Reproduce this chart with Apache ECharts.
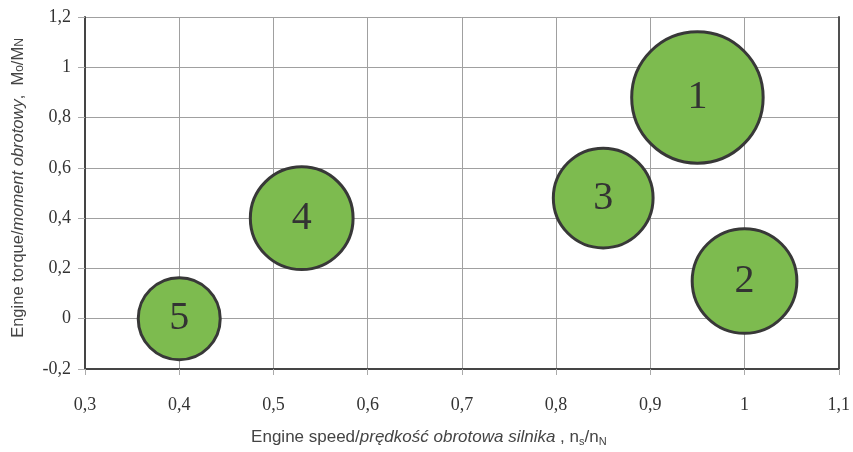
<!DOCTYPE html>
<html>
<head>
<meta charset="utf-8">
<script src="https://cdn.jsdelivr.net/npm/echarts@6/dist/echarts.min.js"></script>
<style>
  html, body { margin: 0; padding: 0; background: #fff; }
  #chart { width: 853px; height: 452px; }
</style>
</head>
<body>
<div id="chart"></div>
<script>
// Operating points: engine speed (ns/nN), engine torque (Mo/MN), relative weight
const pointNames = ['1', '2', '3', '4', '5'];
const speedValues = [0.95, 1.0, 0.85, 0.53, 0.40];
const torqueValues = [0.88, 0.15, 0.48, 0.40, 0.00];
const weightValues = [2.57, 1.63, 1.48, 1.57, 1.00];

// Axis tick labels (decimal comma)
const xTickLabels = ['0,3', '0,4', '0,5', '0,6', '0,7', '0,8', '0,9', '1', '1,1'];
const yTickLabels = ['-0,2', '0', '0,2', '0,4', '0,6', '0,8', '1', '1,2'];

const X_MIN = 0.3, X_STEP = 0.1;
const Y_MIN = -0.2, Y_STEP = 0.2;

const chart = echarts.init(document.getElementById('chart'));

const serif = '"Liberation Serif", "DejaVu Serif", serif';
const sans = '"Liberation Sans", Arial, sans-serif';

const data = pointNames.map((n, i) => [speedValues[i], torqueValues[i], weightValues[i], n]);

chart.setOption({
  animation: false,
  backgroundColor: '#ffffff',
  grid: { left: 85, right: 10, top: 17, bottom: 79, containLabel: false },
  xAxis: {
    type: 'value',
    min: X_MIN, max: 1.1, interval: X_STEP,
    axisLine: { show: true, onZero: false, lineStyle: { color: '#454545', width: 2 } },
    axisTick: { show: true, length: 6, lineStyle: { color: '#aaaaaa', width: 1 } },
    axisLabel: {
      margin: 27, color: '#333333', fontFamily: serif, fontSize: 18,
      formatter: v => xTickLabels[Math.round((v - X_MIN) / X_STEP)]
    },
    splitLine: { show: true, lineStyle: { color: '#a0a0a0', width: 1 } },
    name: '{n|Engine speed/}{i|prędkość obrotowa silnika}{n| , n}{s|s}{n|/n}{s|N}',
    nameLocation: 'middle', nameGap: 58,
    nameTextStyle: {
      padding: [0, 66, 0, 0],
      rich: {
        n: { fontFamily: sans, fontSize: 17, color: '#444' },
        i: { fontFamily: sans, fontSize: 17, color: '#444', fontStyle: 'italic' },
        s: { fontFamily: sans, fontSize: 11, color: '#444', padding: [9, 0, 0, 0] }
      }
    }
  },
  yAxis: [{
    type: 'value',
    min: Y_MIN, max: 1.2, interval: Y_STEP,
    axisLine: { show: true, onZero: false, lineStyle: { color: '#454545', width: 2 } },
    axisTick: { show: true, length: 7, lineStyle: { color: '#aaaaaa', width: 1 } },
    axisLabel: {
      margin: 14, color: '#333333', fontFamily: serif, fontSize: 18,
      formatter: v => yTickLabels[Math.round((v - Y_MIN) / Y_STEP)]
    },
    splitLine: { show: true, lineStyle: { color: '#a0a0a0', width: 1 } },
    name: '{n|Engine torque/}{i|moment obrotowy}{n|,  M}{s|o}{n|/M}{s|N}',
    nameLocation: 'middle', nameGap: 58, nameRotate: 90,
    nameTextStyle: {
      padding: [0, 0, 0, 10],
      rich: {
        n: { fontFamily: sans, fontSize: 16.5, color: '#444' },
        i: { fontFamily: sans, fontSize: 16.5, color: '#444', fontStyle: 'italic' },
        s: { fontFamily: sans, fontSize: 12, color: '#444', padding: [3, 0, 0, 0] }
      }
    }
  }, {
    // right-hand frame edge
    type: 'value', position: 'right',
    min: Y_MIN, max: 1.2, interval: Y_STEP,
    axisLine: { show: true, onZero: false, lineStyle: { color: '#505050', width: 2 } },
    axisTick: { show: false }, axisLabel: { show: false }, splitLine: { show: false }
  }],
  series: [{
    type: 'scatter',
    data: data,
    symbol: 'circle',
    symbolSize: d => 82 * Math.sqrt(d[2]),
    itemStyle: { color: '#7dbb4f', borderColor: '#383838', borderWidth: 3, opacity: 1 },
    label: {
      show: true, position: 'inside',
      formatter: p => p.data[3],
      fontFamily: serif, fontSize: 40, color: '#333333'
    }
  }]
});
</script>
</body>
</html>
